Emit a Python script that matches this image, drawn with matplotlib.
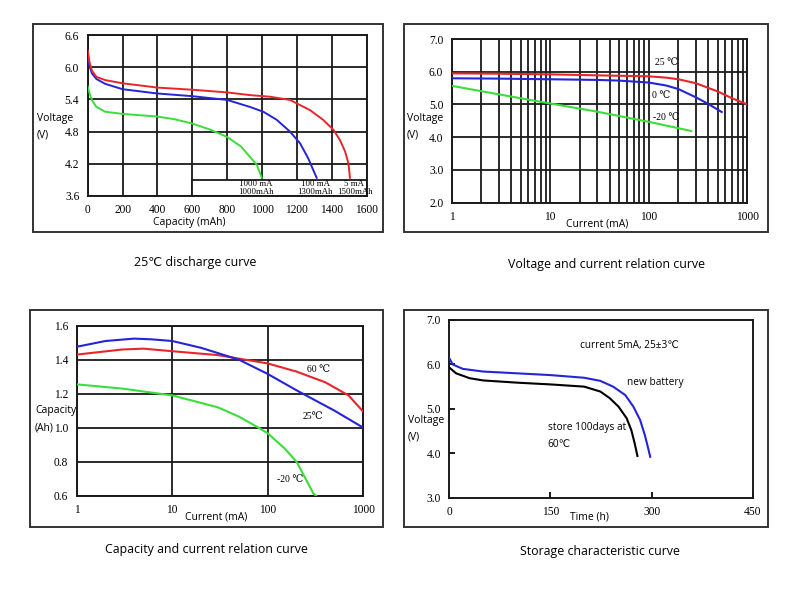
import matplotlib
matplotlib.use("Agg")
import matplotlib.pyplot as plt
from matplotlib.patches import Rectangle
from matplotlib.ticker import FixedLocator, NullLocator, LogLocator

# ---------------- data ----------------
# Panel 1: 25C discharge curve (capacity mAh vs voltage V)
d5_x = [0, 10, 25, 50, 100, 200, 400, 600, 800, 930, 1045, 1160, 1275, 1350, 1410, 1447, 1476, 1495, 1504]
d5_v = [6.32, 6.10, 5.93, 5.82, 5.76, 5.70, 5.62, 5.58, 5.53, 5.48, 5.45, 5.39, 5.20, 5.02, 4.83, 4.64, 4.43, 4.21, 3.94]
d100_x = [0, 10, 25, 50, 100, 200, 400, 600, 800, 930, 1007, 1084, 1160, 1218, 1265, 1294, 1313]
d100_v = [6.23, 6.02, 5.88, 5.78, 5.69, 5.59, 5.51, 5.46, 5.39, 5.26, 5.17, 5.02, 4.80, 4.58, 4.30, 4.08, 3.94]
d1000_x = [0, 10, 25, 50, 100, 200, 400, 500, 600, 700, 800, 880, 930, 970, 998]
d1000_v = [5.64, 5.52, 5.38, 5.26, 5.17, 5.13, 5.08, 5.03, 4.95, 4.84, 4.70, 4.52, 4.33, 4.18, 3.94]
p1_xticks = [0, 200, 400, 600, 800, 1000, 1200, 1400, 1600]
p1_yticks = [3.6, 4.2, 4.8, 5.4, 6.0, 6.6]
p1_ylabels = ["3.6", "4.2", "4.8", "5.4", "6.0", "6.6"]
p1_box_labels = [("1000 mA", "1000mAh", 966), ("100 mA", "1300mAh", 1304), ("5 mA", "1500mAh", 1530)]

# Panel 2: voltage vs current
vc25_x = [1, 3, 10, 30, 100, 150, 200, 300, 500, 700, 1000]
vc25_v = [5.95, 5.94, 5.92, 5.89, 5.86, 5.82, 5.77, 5.65, 5.40, 5.19, 5.00]
vc0_x = [1, 3, 10, 30, 50, 100, 150, 200, 300, 400, 550]
vc0_v = [5.80, 5.79, 5.77, 5.75, 5.73, 5.67, 5.58, 5.47, 5.22, 5.02, 4.77]
vcm20_x = [1, 3, 10, 30, 100, 270]
vcm20_v = [5.57, 5.31, 5.03, 4.78, 4.47, 4.19]
p2_yticks = [2.0, 3.0, 4.0, 5.0, 6.0, 7.0]
log_ticks = [1, 10, 100, 1000]
log_labels = ["1", "10", "100", "1000"]

# Panel 3: capacity vs current
cc25_x = [1, 2, 4, 6, 10, 20, 50, 100, 200, 500, 1000]
cc25_c = [1.476, 1.51, 1.524, 1.52, 1.51, 1.47, 1.40, 1.316, 1.22, 1.10, 1.00]
cc60_x = [1, 3, 5, 10, 30, 100, 200, 400, 700, 1000]
cc60_c = [1.43, 1.46, 1.465, 1.45, 1.427, 1.378, 1.33, 1.267, 1.19, 1.094]
ccm20_x = [1, 3, 10, 30, 50, 80, 100, 150, 200, 300, 320]
ccm20_c = [1.255, 1.23, 1.19, 1.12, 1.065, 1.00, 0.967, 0.878, 0.80, 0.614, 0.60]
p3_yticks = [0.6, 0.8, 1.0, 1.2, 1.4, 1.6]

# Panel 4: storage characteristic
new_t = [0, 5, 20, 50, 100, 150, 200, 224, 243, 261, 273, 283, 290, 295, 298]
new_v = [6.14, 6.00, 5.90, 5.84, 5.80, 5.76, 5.70, 5.63, 5.50, 5.31, 5.05, 4.75, 4.41, 4.11, 3.92]
store_t = [0, 10, 30, 50, 100, 150, 200, 224, 238, 251, 263, 270, 275, 279]
store_v = [5.93, 5.80, 5.69, 5.64, 5.59, 5.55, 5.50, 5.39, 5.24, 5.05, 4.79, 4.52, 4.22, 3.94]
p4_xticks = [0, 150, 300, 450]
p4_yticks = [3.0, 4.0, 5.0, 6.0, 7.0]

titles = ["25\u2103 discharge curve", "Voltage and current relation curve",
          "Capacity and current relation curve", "Storage characteristic curve"]

# ---------------- style ----------------
W, H = 800, 601
RED = "#e8262a"
BLUE = "#2424d8"
GREEN = "#3ade3a"
GRID = "#1a1a1a"
SERIF = ["Liberation Serif", "DejaVu Serif", "DejaVu Sans"]
SANS = ["Open Sans", "DejaVu Sans"]
TICKFS = 8.3
LABFS = 7.5

fig = plt.figure(figsize=(W / 100, H / 100), dpi=100)


def add_ax(l, t, r, b):
    return fig.add_axes([l / W, 1 - b / H, (r - l) / W, (b - t) / H])


def frame(l, t, r, b):
    fig.patches.append(Rectangle((l / W, 1 - b / H), (r - l) / W, (b - t) / H,
                                 transform=fig.transFigure, fill=False,
                                 ec="#333333", lw=1.4))


def ftext(x, y, s, **kw):
    fig.text(x / W, 1 - y / H, s, **kw)


def style(ax):
    for sp in ax.spines.values():
        sp.set_color(GRID)
        sp.set_linewidth(1.4)
    for lab in ax.get_xticklabels() + ax.get_yticklabels():
        lab.set_fontfamily(SERIF)
        lab.set_fontsize(TICKFS)


# ---------- Panel 1 ----------
frame(33, 24, 383, 232)
ax1 = add_ax(87.7, 35, 366.7, 196)
ax1.set_xlim(0, 1600)
ax1.set_ylim(3.6, 6.6)
ax1.set_xticks(p1_xticks)
ax1.set_yticks(p1_yticks)
ax1.set_yticklabels(p1_ylabels)
ax1.tick_params(length=0, pad=6)
ax1.grid(True, color=GRID, lw=1.3)
ax1.set_axisbelow(True)
ax1.add_patch(Rectangle((600, 3.6), 1000, 0.3, fc="white", ec=GRID, lw=1.3, zorder=1.5))
ax1.plot(d1000_x, d1000_v, color=GREEN, lw=1.4, zorder=3)
ax1.plot(d100_x, d100_v, color=BLUE, lw=1.4, zorder=3)
ax1.plot(d5_x, d5_v, color=RED, lw=1.4, zorder=3)
for l1, l2, xc in p1_box_labels:
    ax1.text(xc, 3.82, l1, ha="center", va="center", fontsize=6.3, family=SERIF, zorder=4)
    ax1.text(xc, 3.67, l2, ha="center", va="center", fontsize=6.3, family=SERIF, zorder=4)
style(ax1)
ftext(37, 118, "Voltage", ha="left", va="center", fontsize=LABFS, family=SANS)
ftext(37, 135, "(V)", ha="left", va="center", fontsize=LABFS, family=SANS)
ftext(189, 222, "Capacity (mAh)", ha="center", va="center", fontsize=LABFS, family=SANS)

# ---------- Panel 2 ----------
frame(404, 24, 768, 232)
ax2 = add_ax(451.7, 39, 747.3, 202.7)
ax2.set_xscale("log")
ax2.set_xlim(1, 1000)
ax2.set_ylim(2.0, 7.0)
ax2.xaxis.set_major_locator(FixedLocator(log_ticks))
ax2.xaxis.set_minor_locator(LogLocator(base=10, subs=range(2, 10)))
ax2.set_xticklabels(log_labels)
ax2.set_yticks(p2_yticks)
ax2.set_yticklabels([f"{v:.1f}" for v in p2_yticks])
ax2.tick_params(which="both", length=0, pad=6)
ax2.grid(True, which="both", color=GRID, lw=1.3)
ax2.set_axisbelow(True)
ax2.plot(vcm20_x, vcm20_v, color=GREEN, lw=1.5, zorder=3)
ax2.plot(vc0_x, vc0_v, color=BLUE, lw=1.5, zorder=3)
ax2.plot(vc25_x, vc25_v, color=RED, lw=1.5, zorder=3)
ax2.text(116, 6.27, "25 \u2103", fontsize=7, family=SERIF, va="center", ha="left")
ax2.text(108, 5.26, "0 \u2103", fontsize=7, family=SERIF, va="center", ha="left")
ax2.text(110, 4.61, "-20 \u2103", fontsize=7, family=SERIF, va="center", ha="left")
style(ax2)
ftext(407, 118, "Voltage", ha="left", va="center", fontsize=LABFS, family=SANS)
ftext(407, 135, "(V)", ha="left", va="center", fontsize=LABFS, family=SANS)
ftext(597, 224, "Current (mA)", ha="center", va="center", fontsize=LABFS, family=SANS)

# ---------- Panel 3 ----------
frame(30, 310, 383, 527)
ax3 = add_ax(76.7, 325.7, 363.3, 495.7)
ax3.set_xscale("log")
ax3.set_xlim(1, 1000)
ax3.set_ylim(0.6, 1.6)
ax3.xaxis.set_major_locator(FixedLocator(log_ticks))
ax3.xaxis.set_minor_locator(NullLocator())
ax3.set_xticklabels(log_labels)
ax3.set_yticks(p3_yticks)
ax3.set_yticklabels([f"{v:.1f}" for v in p3_yticks])
ax3.tick_params(which="both", length=0, pad=6)
ax3.grid(True, which="major", color=GRID, lw=1.3)
ax3.set_axisbelow(True)
ax3.plot(ccm20_x, ccm20_c, color=GREEN, lw=1.5, zorder=3)
ax3.plot(cc60_x, cc60_c, color=RED, lw=1.5, zorder=3)
ax3.plot(cc25_x, cc25_c, color=BLUE, lw=1.5, zorder=3)
ax3.text(256, 1.345, "60 \u2103", fontsize=7, family=SERIF, va="center", ha="left")
ax3.text(232, 1.065, "25\u2103", fontsize=7, family=SERIF, va="center", ha="left")
ax3.text(124, 0.698, "-20 \u2103", fontsize=7, family=SERIF, va="center", ha="left")
style(ax3)
ftext(35, 410, "Capacity", ha="left", va="center", fontsize=LABFS, family=SANS)
ftext(35, 428, "(Ah)", ha="left", va="center", fontsize=LABFS, family=SANS)
ftext(216, 517, "Current (mA)", ha="center", va="center", fontsize=LABFS, family=SANS)

# ---------- Panel 4 ----------
frame(404, 310, 768, 527)
ax4 = add_ax(449.3, 320, 752.7, 497.7)
ax4.set_xlim(0, 450)
ax4.set_ylim(3.0, 7.0)
ax4.set_xticks(p4_xticks)
ax4.set_yticks(p4_yticks)
ax4.set_yticklabels([f"{v:.1f}" for v in p4_yticks])
ax4.tick_params(direction="in", length=4, width=1.4, color=GRID, pad=6)
ax4.plot(store_t, store_v, color="black", lw=1.5, zorder=3)
ax4.plot(new_t, new_v, color=BLUE, lw=1.5, zorder=3)
ax4.text(194, 6.42, "current 5mA, 25\u00b13\u2103", fontsize=7.3, family=SANS, va="center", ha="left")
ax4.text(263, 5.59, "new battery", fontsize=7.3, family=SANS, va="center", ha="left")
ax4.text(146, 4.58, "store 100days at", fontsize=7.3, family=SANS, va="center", ha="left")
ax4.text(146, 4.20, "60\u2103", fontsize=7.3, family=SANS, va="center", ha="left")
style(ax4)
ftext(408, 421, "Voltage", ha="left", va="center", fontsize=LABFS, family=SANS)
ftext(408, 437, "(V)", ha="left", va="center", fontsize=LABFS, family=SANS)
ftext(589, 517, "Time (h)", ha="center", va="center", fontsize=LABFS, family=SANS)

# ---------- Titles ----------
ftext(195, 262, titles[0], ha="center", va="center", fontsize=8.9, family=SANS)
ftext(607, 264, titles[1], ha="center", va="center", fontsize=8.9, family=SANS)
ftext(206, 549, titles[2], ha="center", va="center", fontsize=8.9, family=SANS)
ftext(600, 552, titles[3], ha="center", va="center", fontsize=8.9, family=SANS)

fig.savefig("out.png", dpi=100, facecolor="white")
